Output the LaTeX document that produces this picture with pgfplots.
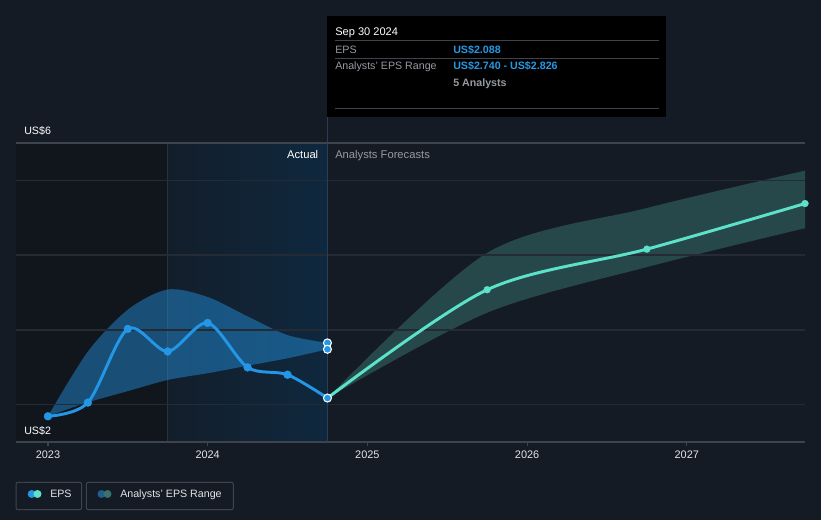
\documentclass[border=0pt]{standalone}
\usepackage{pgfplots}
\pgfplotsset{compat=1.18}
\usepgfplotslibrary{fillbetween}
\usepackage{fontspec}
\setmainfont{Liberation Sans}
\definecolor{bgc}{RGB}{21,27,36}
\definecolor{darkreg}{RGB}{17,21,28}
\definecolor{blueL}{RGB}{19,30,43}
\definecolor{blueR}{RGB}{15,40,62}
\definecolor{gridc}{RGB}{37,43,52}
\definecolor{axisc}{RGB}{62,68,78}
\definecolor{vlinec}{RGB}{40,62,86}
\definecolor{epsblue}{RGB}{35,150,230}
\definecolor{teal}{RGB}{92,226,200}
\definecolor{tealband}{RGB}{80,170,160}
\definecolor{txtgrey}{RGB}{150,154,160}
\definecolor{valblue}{RGB}{40,152,228}
\definecolor{tickc}{RGB}{225,228,232}
\definecolor{legc}{RGB}{62,68,78}
\pagecolor{bgc}
\begin{document}
\begin{tikzpicture}[x=0.75pt,y=0.75pt,font=\fontsize{8}{9.6}\selectfont]
\path (0,0) rectangle (821,520);
\draw[vlinec, line width=0.75pt] (327,403) -- (327,377);
\begin{axis}[
  at={(12pt,58.5pt)}, anchor=south west,
  scale only axis, width=591.75pt, height=224.25pt,
  xmin=2022.8, xmax=2027.74, ymin=1.5, ymax=5.5,
  axis x line=bottom, axis y line=none,
  axis line style={draw=axisc, -, line width=0.9pt},
  xtick={2023,2024,2025,2026,2027},
  xticklabels={2023,2024,2025,2026,2027},
  x tick label style={font=\fontsize{8.2}{9.6}\selectfont, text=tickc},
  tick align=outside, major tick length=3pt, tick style={draw=axisc, line width=0.9pt},
  ytick=\empty,
]
\begin{pgfonlayer}{axis background}
\fill[darkreg] (axis cs:2022.8,1.5) rectangle (axis cs:2023.75,5.5);
\fill[left color=blueL, right color=blueR] (axis cs:2023.75,1.5) rectangle (axis cs:2024.75,5.5);
\draw[blueL!70!white!30!blueL, line width=0.6pt] (axis cs:2023.75,1.5) -- (axis cs:2023.75,5.5);
\end{pgfonlayer}
\pgfplotsinvokeforeach{2,3,4,5}{\draw[gridc, line width=1pt] (axis cs:2022.8,#1) -- (axis cs:2027.74,#1);}
\draw[vlinec, line width=0.75pt] (axis cs:2024.75,1.5) -- (axis cs:2024.75,5.5);
% past analyst range
\addplot[name path=pu, draw=none, smooth, tension=0.5] coordinates {
 (2023.0,1.844) (2023.25,2.71) (2023.5,3.27) (2023.75,3.54) (2024.0,3.44) (2024.25,3.18) (2024.5,2.93) (2024.75,2.826)};
\addplot[name path=pl, draw=none, smooth, tension=0.5] coordinates {
 (2023.0,1.844) (2023.25,2.03) (2023.5,2.18) (2023.75,2.33) (2024.0,2.42) (2024.25,2.52) (2024.5,2.62) (2024.75,2.740)};
\addplot[fill=epsblue, fill opacity=0.45, draw=none] fill between[of=pu and pl];
% forecast range
\addplot[name path=fu, draw=none, smooth, tension=0.5] coordinates {
 (2024.75,2.088) (2025.75,4.03) (2026.75,4.63) (2027.74,5.13)};
\addplot[name path=fl, draw=none, smooth, tension=0.5] coordinates {
 (2024.75,2.088) (2025.75,3.23) (2026.75,3.84) (2027.74,4.36)};
\addplot[fill=tealband, fill opacity=0.32, draw=none] fill between[of=fu and fl];
% EPS history
\addplot[epsblue, line width=2.2pt, smooth, tension=0.5, no marks] coordinates {
 (2023.0,1.844) (2023.25,2.027) (2023.5,3.013) (2023.75,2.711) (2024.0,3.093) (2024.25,2.498) (2024.5,2.40) (2024.75,2.088)};
\addplot[only marks, mark=*, mark size=3pt, mark options={fill=epsblue, draw=epsblue, line width=0.2pt}] coordinates {
 (2023.0,1.844) (2023.25,2.027) (2023.5,3.013) (2023.75,2.711) (2024.0,3.093) (2024.25,2.498) (2024.5,2.40)};
% forecast EPS
\addplot[teal, line width=2.2pt, smooth, tension=0.5, no marks] coordinates {
 (2024.75,2.088) (2025.75,3.537) (2026.75,4.08) (2027.74,4.69)};
\addplot[only marks, mark=*, mark size=2.6pt, mark options={fill=teal, draw=teal, line width=0.2pt}] coordinates {
 (2025.75,3.537) (2026.75,4.08) (2027.74,4.69)};
% highlighted points at Sep 30 2024
\addplot[only marks, mark=*, mark size=3pt, mark options={fill=epsblue, draw=white, line width=0.8pt}] coordinates {
 (2024.75,2.826) (2024.75,2.740) (2024.75,2.088)};
\end{axis}
\draw[axisc, line width=1pt] (16,377) -- (805,377);
\node[anchor=base west, inner sep=0, text=white] at (24,385.5) {US\$6};
\node[anchor=base west, inner sep=0, text=white] at (24,85.5) {US\$2};
\node[anchor=base east, inner sep=0, text=white, font=\fontsize{8.4}{10}\selectfont] at (318.5,361.7) {Actual};
\node[anchor=base west, inner sep=0, text=txtgrey, font=\fontsize{8.4}{10}\selectfont] at (335,361.7) {Analysts Forecasts};
% tooltip
\fill[black] (326.5,504) rectangle (666,403);
\node[anchor=base west, inner sep=0, text=white, font=\fontsize{8.3}{10}\selectfont] at (335,484.5) {Sep 30 2024};
\draw[axisc, line width=0.75pt] (335,479) -- (659,479);
\node[anchor=base west, inner sep=0, text=txtgrey] at (335,466.7) {EPS};
\node[anchor=base west, inner sep=0, text=valblue, font=\fontsize{8}{9.6}\bfseries] at (453,466.7) {US\$2.088};
\draw[axisc, line width=0.75pt] (335,461.7) -- (659,461.7);
\node[anchor=base west, inner sep=0, text=txtgrey] at (335,450) {Analysts' EPS Range};
\node[anchor=base west, inner sep=0, text=valblue, font=\fontsize{8}{9.6}\bfseries] at (453,450) {US\$2.740 - US\$2.826};
\node[anchor=base west, inner sep=0, text=txtgrey, font=\fontsize{8}{9.6}\bfseries] at (453,433.3) {5 Analysts};
\draw[axisc, line width=0.75pt] (335,411) -- (659,411);
% legend
\draw[legc, line width=0.75pt, rounded corners=1.5pt] (16,37.7) rectangle (81.7,10.3);
\fill[epsblue] (31.7,26) circle (4);
\fill[teal] (37.5,26) circle (4);
\node[anchor=base west, inner sep=0, text=tickc] at (50,22) {EPS};
\draw[legc, line width=0.75pt, rounded corners=1.5pt] (86.3,37.7) rectangle (233.3,10.3);
\fill[epsblue!55!bgc] (101.5,26) circle (4);
\fill[tealband!60!bgc] (107.5,26) circle (4);
\node[anchor=base west, inner sep=0, text=tickc] at (120,22) {Analysts' EPS Range};
\end{tikzpicture}
\end{document}
